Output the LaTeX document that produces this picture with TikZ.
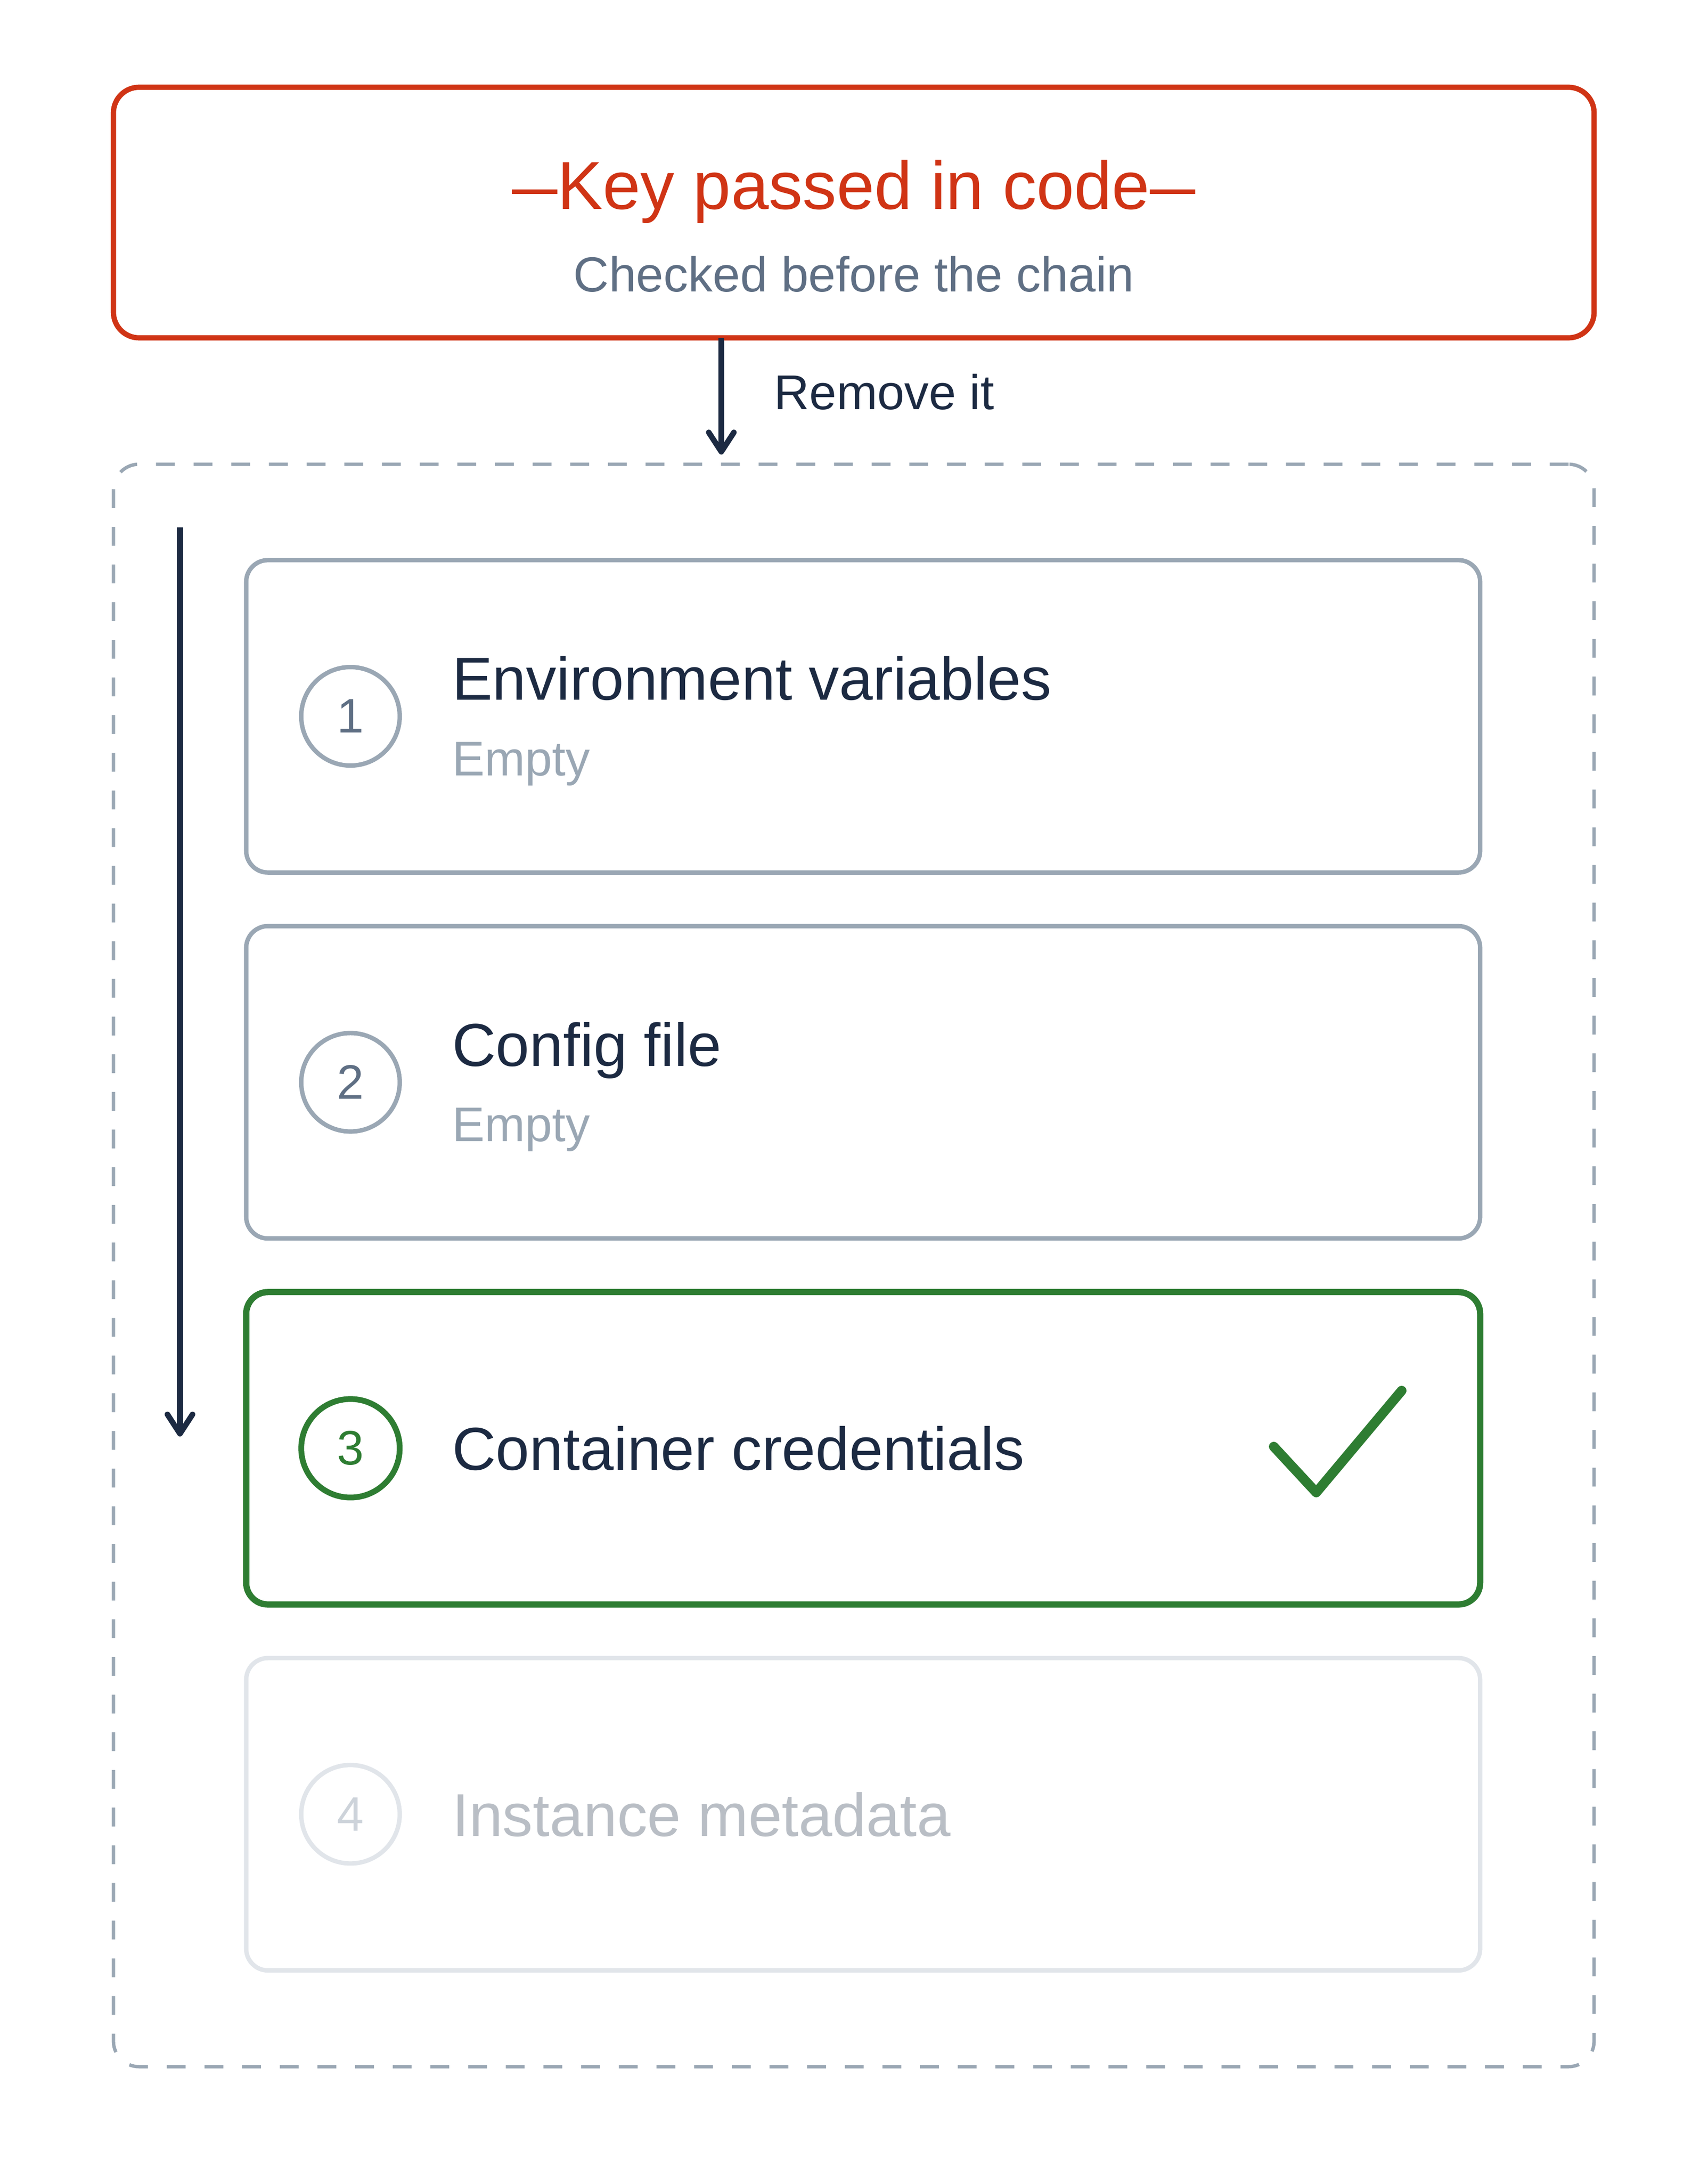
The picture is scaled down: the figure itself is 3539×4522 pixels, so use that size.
\documentclass[tikz,border=0pt]{standalone}
\usepackage{fontspec}
\setmainfont{Liberation Sans}
\usepackage{xcolor}
\usepackage{graphicx}
\usepackage{tikz}
\usetikzlibrary{positioning, arrows.meta}

\definecolor{rojo}{HTML}{D03415}
\definecolor{marino}{HTML}{1C2A42}
\definecolor{pizarra}{HTML}{5F6F84}
\definecolor{gris}{HTML}{9AA7B4}
\definecolor{verde}{HTML}{2E7D32}
\definecolor{tenue}{HTML}{E1E5EA}
\definecolor{tenuetxt}{HTML}{B9BEC5}
\definecolor{tenuenum}{HTML}{CDD3DA}

\newcommand{\raya}{\scalebox{0.67}[1]{—}}

\tikzset{
  stepbox/.style={draw=gris, line width=2.6pt, rounded corners=0.45cm,
    minimum width=25.56cm, minimum height=6.47cm, inner sep=0pt, outer sep=0pt},
  numdot/.style={circle, draw=gris, line width=2.6pt, minimum size=2.04cm,
    inner sep=0pt, text=pizarra, font=\fontsize{28.5}{30}\selectfont},
  steptitle/.style={anchor=base west, inner sep=0pt, text=marino,
    font=\fontsize{35.7}{40}\selectfont},
  stepnote/.style={anchor=base west, inner sep=0pt, text=gris,
    font=\fontsize{28.7}{32}\selectfont},
  flow/.style={draw=marino, line width=3.3pt,
    -{Straight Barb[length=0.4cm, width=0.52cm, line cap=round, line join=round]}},
}

\begin{document}
\begin{tikzpicture}[x=0.01cm, y=-0.01cm]
  \useasboundingbox (0,0) rectangle (3539,4522);

  % Caja roja de arriba
  \node[draw=rojo, line width=3.1pt, rounded corners=0.53cm, minimum width=30.67cm,
        minimum height=5.19cm, inner sep=0pt, outer sep=0pt] (key) at (1769.5,440.5) {};
  \node[anchor=base, inner sep=0pt, text=rojo, font=\fontsize{40}{44}\selectfont]
        (keyt) at (1769.5,434) {\raya Key passed in code\raya};
  \node[anchor=base, inner sep=0pt, text=pizarra, font=\fontsize{29}{32}\selectfont]
        (keys) at (1769.5,605) {Checked before the chain};

  % Marco discontinuo de la cadena
  \node[draw=gris, line width=2pt, dash pattern=on 11.1pt off 11.1pt, rounded corners=0.53cm,
        minimum width=30.67cm, minimum height=33.19cm, inner sep=0pt, outer sep=0pt]
        (chain) at (1769.5,2622.5) {};

  % Cajas (una debajo de otra)
  \node[stepbox] (env) at (1789,1484.5) {};
  \node[stepbox, below=1.11cm of env] (cfg) {};
  \node[stepbox, draw=verde, line width=3.7pt, below=1.11cm of cfg] (ctr) {};
  \node[stepbox, draw=tenue, below=1.11cm of ctr] (imd) {};

  % Numeros
  \node[numdot] (n1) at ([xshift=2.16cm]env.west) {1};
  \node[numdot] (n2) at ([xshift=2.16cm]cfg.west) {2};
  \node[numdot, draw=verde, text=verde, line width=3.4pt] (n3) at ([xshift=2.16cm]ctr.west) {3};
  \node[numdot, draw=tenue, text=tenuenum] (n4) at ([xshift=2.16cm]imd.west) {4};

  % Textos
  \node[steptitle] (t1) at ([xshift=4.26cm, yshift=0.335cm]env.west) {Environment variables};
  \node[stepnote] (e1) at ([xshift=4.26cm, yshift=-1.225cm]env.west) {Empty};
  \node[steptitle] (t2) at ([xshift=4.26cm, yshift=0.335cm]cfg.west) {Config file};
  \node[stepnote] (e2) at ([xshift=4.26cm, yshift=-1.225cm]cfg.west) {Empty};
  \node[steptitle] (t3) at ([xshift=4.26cm, yshift=-0.455cm]ctr.west) {Container credentials};
  \node[steptitle, text=tenuetxt] (t4) at ([xshift=4.26cm, yshift=-0.455cm]imd.west) {Instance metadata};

  % Marca de correcto
  \draw[verde, line width=5.7pt, line cap=round, line join=round]
    (2640,2998) -- (2728,3093) -- (2905,2882);

  % Flechas
  \coordinate (drop) at (1495,942);
  \draw[flow] (key.south -| drop) -- (drop);
  \node[anchor=base west, inner sep=0pt, text=marino, font=\fontsize{28.8}{32}\selectfont]
        (remv) at (1604,848) {Remove it};
  \coordinate (chaintop) at (373,1093);
  \coordinate (chainend) at (373,2977);
  \draw[flow] (chaintop) -- (chainend);
\end{tikzpicture}
\end{document}
